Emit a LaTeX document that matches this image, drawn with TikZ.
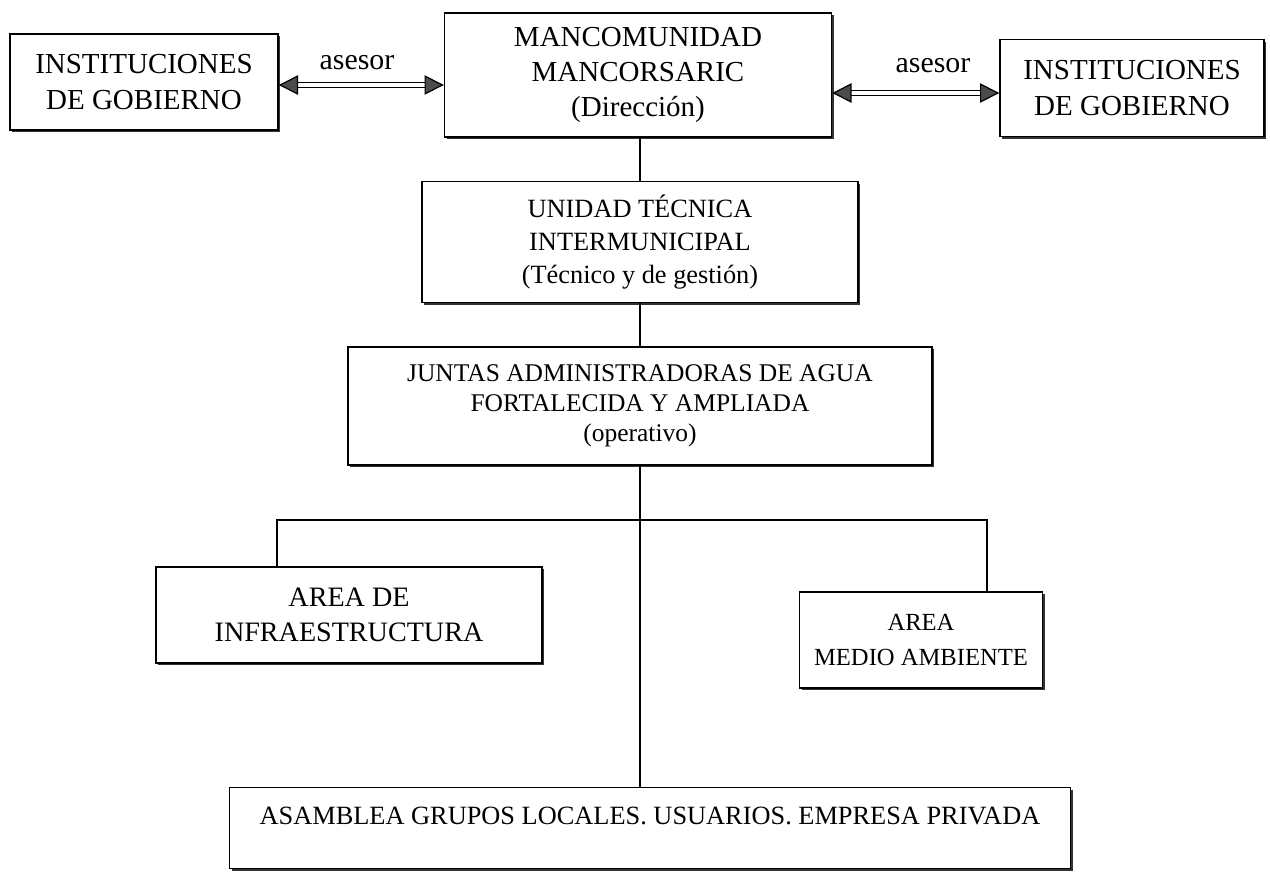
\documentclass[tikz,border=0pt]{standalone}
\usepackage{fontspec}
\setmainfont{Liberation Serif}
\usepackage{tikz}
\usetikzlibrary{arrows.meta}
\usetikzlibrary{positioning, shadows}
\tikzset{
orgbox/.style = { rectangle, draw = black, fill = white, line width = 0.8pt, align = center, inner sep = 0pt, drop shadow = {shadow xshift = 1.2pt, shadow yshift = -1.4pt, fill = black!80, opacity = 1} },
link/.style = { draw = black, line width = 0.6pt },
adv/.style = { double = white, double distance = 2.4pt, line width = 0.7pt, {Triangle[length = 11pt, width = 11pt, fill = black!70]}-{Triangle[length = 11pt, width = 11pt, fill = black!70]} },
}

\begin{document}
\begin{tikzpicture}[x = 0.02cm, y = -0.02cm]
    \useasboundingbox (0, 0) rectangle (1270, 877);
    % top row
    \node[orgbox, minimum width = 5.36cm, minimum height = 1.92cm, font = \fontsize{16.5}{20}\selectfont] (instL) at (144, 82) {INSTITUCIONES\\DE GOBIERNO};
    \node[orgbox, minimum width = 7.74cm, minimum height = 2.48cm, font = \fontsize{16.5}{20}\selectfont] (manc) at (638, 75) {MANCOMUNIDAD\\MANCORSARIC\\(Dirección)};
    \node[orgbox, minimum width = 5.28cm, minimum height = 1.94cm, font = \fontsize{16.5}{20}\selectfont] (instR) at (1132, 88) {INSTITUCIONES\\DE GOBIERNO};
    \node[font = \fontsize{17}{20}\selectfont] (asesorL) at (357, 63) {asesor};
    \node[font = \fontsize{17}{20}\selectfont] (asesorR) at (933, 66) {asesor};
    % middle column
    \node[orgbox, minimum width = 8.72cm, minimum height = 2.42cm, font = \fontsize{15}{19}\selectfont] (unidad) at (640, 242) {UNIDAD TÉCNICA\\INTERMUNICIPAL\\(Técnico y de gestión)};
    \node[orgbox, minimum width = 11.68cm, minimum height = 2.36cm, font = \fontsize{14.5}{17}\selectfont] (juntas) at (640, 406) {JUNTAS ADMINISTRADORAS DE AGUA\\FORTALECIDA Y AMPLIADA\\(operativo)};
    % areas
    \node[orgbox, minimum width = 7.72cm, minimum height = 1.92cm, font = \fontsize{16}{20}\selectfont] (infra) at (349, 615) {AREA DE\\INFRAESTRUCTURA};
    \node[orgbox, minimum width = 4.86cm, minimum height = 1.92cm, font = \fontsize{14}{20}\selectfont] (medio) at (921, 640) {AREA\\MEDIO AMBIENTE};
    \node[orgbox, minimum width = 16.82cm, minimum height = 1.62cm, text depth = 0.5cm, font = \fontsize{15}{19}\selectfont] (asamblea) at (650, 828) {ASAMBLEA GRUPOS LOCALES. USUARIOS. EMPRESA PRIVADA};
    \coordinate (brL) at (277, 520);
    \coordinate (brR) at (987, 520);
    \coordinate (brM) at (640, 520);
    % connectors
    \draw[adv] ([yshift = -0.06cm]instL.east) -- ([yshift = -0.06cm]instL.east -| manc.west);
    \draw[adv] ([yshift = -0.1cm]instR.west -| manc.east) -- ([yshift = -0.1cm]instR.west);
    \draw[link] (manc.south -| brM) -- (unidad.north -| brM);
    \draw[link] (unidad.south -| brM) -- (juntas.north -| brM);
    \draw[link] (juntas.south -| brM) -- (asamblea.north -| brM);
    \draw[link] (infra.north -| brL) -- (brL) -- (brR) -- (medio.north -| brR);
\end{tikzpicture}
\end{document}
